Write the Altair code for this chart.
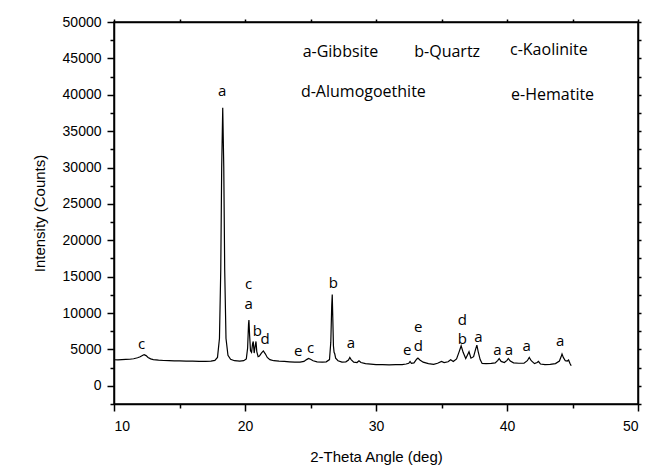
import altair as alt
import pandas as pd

# ---- data ----
two_theta = [10.0, 10.3, 10.6, 10.9, 11.2, 11.5, 11.8, 12.0, 12.2, 12.3, 12.45, 12.6, 12.8, 13.0,
             13.4, 13.8, 14.2, 14.6, 15.0, 15.5, 16.0, 16.5, 17.0, 17.4, 17.7, 17.9, 18.05, 18.15,
             18.22, 18.3, 18.38, 18.45, 18.55, 18.7, 18.9, 19.2, 19.6, 19.9, 20.1, 20.2, 20.27, 20.3,
             20.35, 20.42, 20.5, 20.58, 20.63, 20.7, 20.77, 20.84, 20.9, 21.0, 21.1, 21.25, 21.4,
             21.55, 21.7, 21.9, 22.2, 22.6, 23.0, 23.4, 23.8, 24.2, 24.5, 24.7, 24.85, 25.0, 25.2,
             25.5, 25.9, 26.2, 26.45, 26.55, 26.62, 26.66, 26.7, 26.75, 26.8, 26.85, 26.92, 27.1,
             27.4, 27.7, 27.9, 28.0, 28.1, 28.3, 28.55, 28.7, 28.85, 29.2, 29.6, 30.0, 30.5, 31.0,
             31.5, 32.0, 32.3, 32.5, 32.6, 32.7, 32.9, 33.1, 33.2, 33.35, 33.6, 34.0, 34.4, 34.7,
             35.0, 35.2, 35.5, 35.7, 35.9, 36.15, 36.35, 36.5, 36.65, 36.85, 37.0, 37.1, 37.25,
             37.45, 37.6, 37.7, 37.8, 37.95, 38.1, 38.4, 38.8, 39.1, 39.3, 39.4, 39.55, 39.8, 40.0,
             40.1, 40.25, 40.5, 40.9, 41.3, 41.55, 41.7, 41.85, 42.1, 42.3, 42.4, 42.55, 42.9, 43.3,
             43.7, 44.0, 44.15, 44.2, 44.3, 44.45, 44.6, 44.7, 44.8, 44.9]
intensity = [3580, 3560, 3600, 3620, 3650, 3720, 3850, 4000, 4200, 4270, 4150, 3900, 3700, 3600,
             3520, 3480, 3450, 3430, 3420, 3400, 3380, 3360, 3370, 3400, 3500, 3900, 6500, 16000,
             30000, 38200, 30000, 16000, 6500, 4200, 3650, 3450, 3400, 3450, 3700, 5200, 8500, 9050,
             7000, 4800, 4600, 5800, 6100, 4500, 5400, 6100, 4700, 4000, 4100, 4500, 4800,
             4400, 3900, 3600, 3450, 3380, 3350, 3300, 3250, 3260, 3350, 3600, 3760, 3650, 3450,
             3300, 3250, 3300, 3600, 6000, 11000, 12530, 9500, 5500, 4600, 4400, 3800, 3450,
             3250, 3300, 3550, 3900, 3600, 3250, 3200, 3450, 3200, 3050, 2980, 2920, 2900, 2880,
             2900, 2920, 3000, 3100, 3350, 3100, 3150, 3650, 3810, 3550, 3250, 3050, 2950, 3100,
             3350, 3200, 3300, 3580, 3350, 3700, 4700, 5510, 4600, 3750, 4300, 4680, 3800,
             4000, 5000, 5600, 4700, 3600, 3070, 3050, 3080, 3150, 3500, 3760, 3350, 3200, 3500,
             3760, 3400, 3150, 3100, 3100, 3450, 3900, 3450, 3050, 3200, 3350, 3000, 2920, 2950,
             3050, 3400, 4100, 4360, 3900, 3450, 3400, 3540, 3100, 2750]

peak_label = ["c", "a", "c", "a", "b", "d", "e", "c", "b", "a", "e", "d", "e", "d", "b", "a",
              "a", "a", "a", "a"]
peak_x = [12.1, 18.25, 20.28, 20.28, 20.94, 21.53, 24.07, 25.0, 26.74, 28.09, 32.39, 33.23,
          33.23, 36.59, 36.59, 37.81, 39.26, 40.15, 41.5, 44.05]
peak_y = [5740, 40530, 14000, 11300, 7480, 6430, 4820, 5190, 14140, 5830, 4910, 5450,
          8150, 9100, 6400, 6750, 4960, 4960, 5510, 6200]

key_text = ["a-Gibbsite", "b-Quartz", "c-Kaolinite", "d-Alumogoethite", "e-Hematite"]
key_x = [24.4, 32.92, 40.23, 24.27, 40.31]
key_y = [45810, 45810, 46130, 40390, 39930]

df = pd.DataFrame({"x": two_theta, "y": intensity})
peaks = pd.DataFrame({"x": peak_x, "y": peak_y, "t": peak_label})
keys = pd.DataFrame({"x": key_x, "y": key_y, "t": key_text})

xscale = alt.Scale(domain=[10, 50], nice=False, zero=False)
yscale = alt.Scale(domain=[-2500, 50000], nice=False, zero=False)

x_vals = [10, 15, 20, 25, 30, 35, 40, 45, 50]
y_vals = list(range(-2500, 50001, 2500))

AX_FONT = "Liberation Sans"
TXT_FONT = "Open Sans"

x_axis = alt.Axis(
    title="2-Theta Angle (deg)", values=x_vals, format="d",
    labelExpr="datum.value % 10 === 0 ? datum.label : ''",
    tickSize={"condition": {"test": "datum.value % 10 === 0", "value": 7}, "value": 4},
    labelPadding=8, titlePadding=16,
    labelFont=AX_FONT, labelFontSize=14, titleFont=AX_FONT, titleFontSize=15,
    titleFontWeight="normal", labelColor="black", titleColor="black",
    domainColor="black", domainWidth=1.5, tickColor="black", tickWidth=1.5, grid=False,
)
y_axis = alt.Axis(
    title="Intensity (Counts)", values=y_vals, format="d",
    labelExpr="datum.value % 5000 === 0 ? datum.label : ''",
    tickSize={"condition": {"test": "datum.value % 5000 === 0", "value": 7}, "value": 4},
    labelPadding=6, titlePadding=15,
    labelFont=AX_FONT, labelFontSize=14, titleFont=AX_FONT, titleFontSize=15,
    titleFontWeight="normal", labelColor="black", titleColor="black",
    domainColor="black", domainWidth=1.5, tickColor="black", tickWidth=1.5, grid=False,
)
x_top = alt.Axis(orient="top", values=x_vals, labels=False, title=None, tickSize=3,
                 domainColor="black", domainWidth=1.5, tickColor="black", tickWidth=1.5, grid=False)
y_right = alt.Axis(orient="right", values=y_vals, labels=False, title=None, tickSize=3,
                   domainColor="black", domainWidth=1.5, tickColor="black", tickWidth=1.5, grid=False)

line = alt.Chart(df).mark_line(color="black", strokeWidth=1.2).encode(
    x=alt.X("x:Q", scale=xscale, axis=x_axis),
    y=alt.Y("y:Q", scale=yscale, axis=y_axis),
)

peak_text = alt.Chart(peaks).mark_text(
    font=TXT_FONT, fontSize=15, color="black", align="center", baseline="middle"
).encode(
    x=alt.X("x:Q", scale=xscale, axis=x_top),
    y=alt.Y("y:Q", scale=yscale, axis=y_right),
    text="t:N",
)

key_layer = alt.Chart(keys).mark_text(
    font=TXT_FONT, fontSize=16, color="black", align="left", baseline="middle"
).encode(
    x=alt.X("x:Q", scale=xscale, axis=None),
    y=alt.Y("y:Q", scale=yscale, axis=None),
    text="t:N",
)

chart = alt.layer(line, peak_text, key_layer).resolve_axis(
    x="independent", y="independent"
).properties(
    width=524, height=382,
    autosize="none",
    padding={"left": 114, "top": 22, "right": 9, "bottom": 61},
    background="white",
).configure_view(stroke="black", strokeWidth=1.5)

chart.save("out.html", embed_options={"renderer": "svg", "actions": False})
